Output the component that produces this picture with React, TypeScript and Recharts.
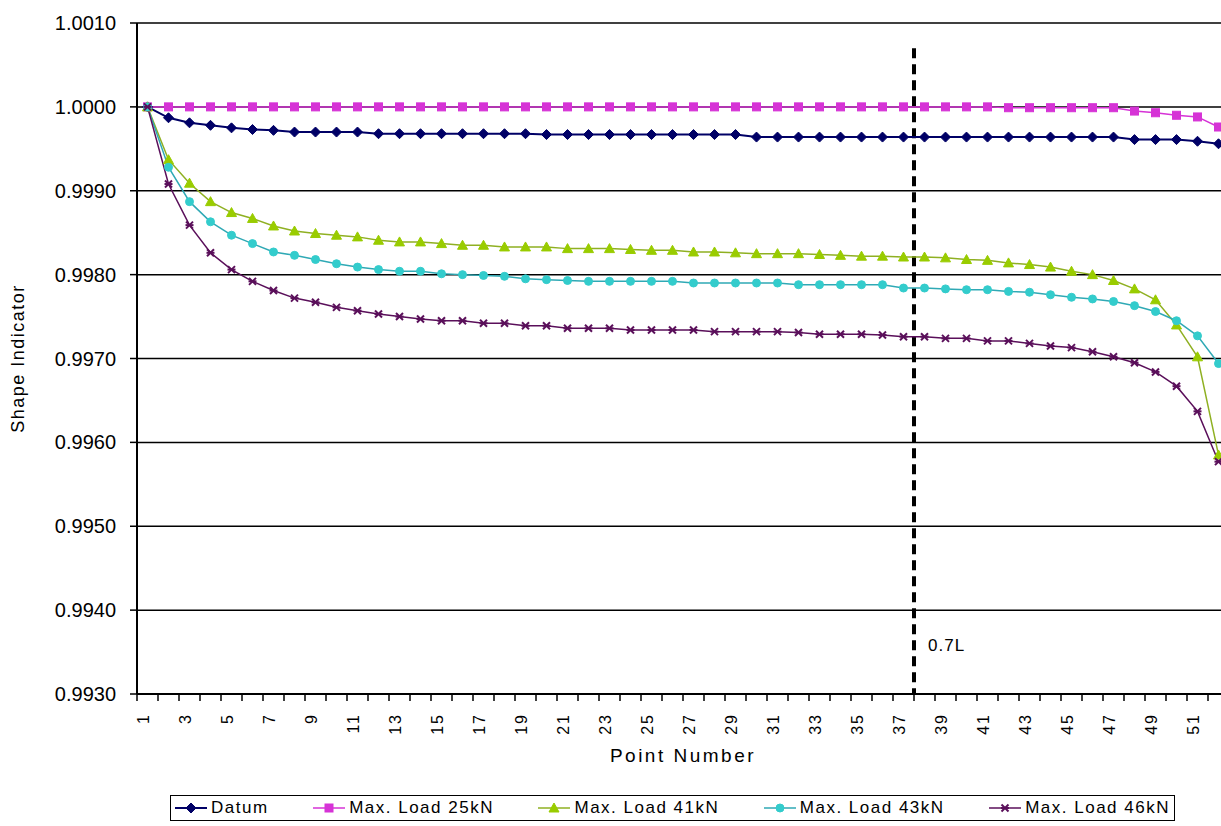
import { CartesianGrid, Legend, Line, LineChart, ReferenceLine, XAxis, YAxis } from "recharts";

// point numbers along the member
const points = Array.from({ length: 52 }, (_, i) => i + 1);

const datum = [
  1.0, 0.99987, 0.99981, 0.99978, 0.99975, 0.99973, 0.99972, 0.9997, 0.9997, 0.9997,
  0.9997, 0.99968, 0.99968, 0.99968, 0.99968, 0.99968, 0.99968, 0.99968, 0.99968, 0.99967,
  0.99967, 0.99967, 0.99967, 0.99967, 0.99967, 0.99967, 0.99967, 0.99967, 0.99967, 0.99964,
  0.99964, 0.99964, 0.99964, 0.99964, 0.99964, 0.99964, 0.99964, 0.99964, 0.99964, 0.99964,
  0.99964, 0.99964, 0.99964, 0.99964, 0.99964, 0.99964, 0.99964, 0.99961, 0.99961, 0.99961,
  0.99959, 0.99956,
];
const load25 = [
  1.0, 1.0, 1.0, 1.0, 1.0, 1.0, 1.0, 1.0, 1.0, 1.0,
  1.0, 1.0, 1.0, 1.0, 1.0, 1.0, 1.0, 1.0, 1.0, 1.0,
  1.0, 1.0, 1.0, 1.0, 1.0, 1.0, 1.0, 1.0, 1.0, 1.0,
  1.0, 1.0, 1.0, 1.0, 1.0, 1.0, 1.0, 1.0, 1.0, 1.0,
  1.0, 0.99999, 0.99999, 0.99999, 0.99999, 0.99999, 0.99999, 0.99995, 0.99993, 0.9999,
  0.99988, 0.99976,
];
const load41 = [
  1.0, 0.99937, 0.99909, 0.99887, 0.99874, 0.99867, 0.99858, 0.99852, 0.99849, 0.99847,
  0.99845, 0.99841, 0.99839, 0.99839, 0.99837, 0.99835, 0.99835, 0.99833, 0.99833, 0.99833,
  0.99831, 0.99831, 0.99831, 0.9983, 0.99829, 0.99829, 0.99827, 0.99827, 0.99826, 0.99825,
  0.99825, 0.99825, 0.99824, 0.99823, 0.99822, 0.99822, 0.99821, 0.99821, 0.9982, 0.99818,
  0.99817, 0.99814, 0.99812, 0.99809, 0.99804, 0.998, 0.99793, 0.99783, 0.9977, 0.9974,
  0.99702, 0.99585,
];
const load43 = [
  1.0, 0.99928, 0.99887, 0.99863, 0.99847, 0.99837, 0.99827, 0.99823, 0.99818, 0.99813,
  0.99809, 0.99806, 0.99804, 0.99804, 0.99801, 0.998, 0.99799, 0.99798, 0.99795, 0.99794,
  0.99793, 0.99792, 0.99792, 0.99792, 0.99792, 0.99792, 0.9979, 0.9979, 0.9979, 0.9979,
  0.9979, 0.99788, 0.99788, 0.99788, 0.99788, 0.99788, 0.99784, 0.99784, 0.99783, 0.99782,
  0.99782, 0.9978, 0.99779, 0.99776, 0.99773, 0.99771, 0.99768, 0.99763, 0.99756, 0.99745,
  0.99727, 0.99694,
];
const load46 = [
  1.0, 0.99908, 0.99859, 0.99826, 0.99806, 0.99792, 0.99781, 0.99772, 0.99767, 0.99761,
  0.99757, 0.99753, 0.9975, 0.99747, 0.99745, 0.99745, 0.99742, 0.99742, 0.99739, 0.99739,
  0.99736, 0.99736, 0.99736, 0.99734, 0.99734, 0.99734, 0.99734, 0.99732, 0.99732, 0.99732,
  0.99732, 0.99731, 0.99729, 0.99729, 0.99729, 0.99728, 0.99726, 0.99726, 0.99724, 0.99724,
  0.99721, 0.99721, 0.99718, 0.99715, 0.99713, 0.99708, 0.99702, 0.99695, 0.99684, 0.99667,
  0.99637, 0.99577,
];

const yTicks = [0.993, 0.994, 0.995, 0.996, 0.997, 0.998, 0.999, 1.0, 1.001];
// labels on odd points, tick marks on the boundaries between points
const xTicks = [0.5, ...points.flatMap((p) => [p, p + 0.5])];

// dashed "0.7L" marker, drawn between points 37 and 38
const markerX = 37.5;
const markerTop = 1.0007;

const series = [
  { key: "datum", name: "Datum", values: datum, color: "#000066", line: "#000066", shape: "diamond", width: 2 },
  { key: "load25", name: "Max. Load 25kN", values: load25, color: "#d633d6", line: "#d633d6", shape: "square", width: 1.5 },
  { key: "load41", name: "Max. Load 41kN", values: load41, color: "#99cc00", line: "#8fb022", shape: "triangle", width: 1.5 },
  { key: "load43", name: "Max. Load 43kN", values: load43, color: "#33cccc", line: "#2fa9b5", shape: "circle", width: 1.5 },
  { key: "load46", name: "Max. Load 46kN", values: load46, color: "#5a0f5a", line: "#5a0f5a", shape: "star", width: 1.5 },
];

const rows = points.map((p, i) => {
  const row: Record<string, number> = { point: p };
  series.forEach((s) => (row[s.key] = s.values[i]));
  return row;
});

const FONT = "'Liberation Sans', Arial, sans-serif";

function Marker({ shape, cx, cy, color }: { shape: string; cx: number; cy: number; color: string }) {
  if (shape === "diamond")
    return <polygon points={`${cx},${cy - 5} ${cx + 5},${cy} ${cx},${cy + 5} ${cx - 5},${cy}`} fill={color} stroke={color} />;
  if (shape === "square") return <rect x={cx - 4} y={cy - 4} width={8} height={8} fill={color} stroke={color} />;
  if (shape === "triangle")
    return <polygon points={`${cx},${cy - 5} ${cx + 5},${cy + 4} ${cx - 5},${cy + 4}`} fill={color} stroke={color} />;
  if (shape === "circle") return <circle cx={cx} cy={cy} r={4} fill={color} stroke={color} />;
  return (
    <g stroke={color} strokeWidth={2}>
      <line x1={cx - 3.5} y1={cy - 3.5} x2={cx + 3.5} y2={cy + 3.5} />
      <line x1={cx - 3.5} y1={cy + 3.5} x2={cx + 3.5} y2={cy - 3.5} />
      <line x1={cx - 4} y1={cy} x2={cx + 4} y2={cy} />
    </g>
  );
}

function XTick(props: any) {
  const { x, y, payload } = props;
  const v = payload.value as number;
  if (!Number.isInteger(v)) {
    return <line x1={x} y1={y} x2={x} y2={y + 7} stroke="#000" strokeWidth={1.5} />;
  }
  if (v % 2 === 0) return <g />;
  return (
    <text
      transform={`translate(${x - 4},${y + 19}) rotate(-90)`}
      textAnchor="end"
      dominantBaseline="central"
      fontSize={16}
      letterSpacing={2}
      fill="#000"
    >
      {v}
    </text>
  );
}

function LegendBox() {
  return (
    <div
      style={{
        height: 26,
        boxSizing: "border-box",
        border: "1px solid #000",
        display: "flex",
        alignItems: "center",
        justifyContent: "space-between",
        padding: "0 4px 0 2px",
        fontFamily: FONT,
        fontSize: 17,
        letterSpacing: 1.5,
        background: "#fff",
      }}
    >
      {series.map((s) => (
        <div key={s.key} style={{ display: "flex", alignItems: "center" }}>
          <svg width={36} height={14}>
            <line x1={2} y1={7} x2={34} y2={7} stroke={s.line} strokeWidth={s.width} />
            <Marker shape={s.shape} cx={18} cy={7} color={s.color} />
          </svg>
          <span style={{ marginLeft: 2 }}>{s.name}</span>
        </div>
      ))}
    </div>
  );
}

export default function App() {
  return (
    <div
      style={{ position: "fixed", left: 0, top: 0, width: 1221, height: 826, overflow: "hidden", background: "#fff" }}
    >
      <LineChart
        width={1250}
        height={826}
        data={rows}
        margin={{ top: 23, right: 21, bottom: 5, left: 0 }}
        style={{ fontFamily: FONT }}
      >
        <CartesianGrid vertical={false} stroke="#000" strokeWidth={1.5} strokeOpacity={1} />
        <XAxis
          type="number"
          dataKey="point"
          domain={[0.5, 52.5]}
          allowDataOverflow
          ticks={xTicks}
          interval={0}
          tick={<XTick />}
          tickLine={false}
          tickSize={0}
          tickMargin={0}
          axisLine={{ stroke: "#000", strokeWidth: 2 }}
          height={101}
          label={{ value: "Point Number", position: "insideTop", offset: 55, fontSize: 19, letterSpacing: 2.5, fill: "#000" }}
        />
        <YAxis
          type="number"
          domain={[0.993, 1.001]}
          ticks={yTicks}
          interval={0}
          width={137}
          tickFormatter={(v: number) => v.toFixed(4)}
          tick={{ fontSize: 20, fill: "#000" }}
          tickSize={7}
          tickMargin={14}
          tickLine={{ stroke: "#000", strokeWidth: 1.5 }}
          axisLine={{ stroke: "#000", strokeWidth: 2 }}
          label={{
            value: "Shape Indicator",
            angle: -90,
            position: "insideLeft",
            offset: 18,
            style: { textAnchor: "middle" },
            fontSize: 18,
            letterSpacing: 1.5,
            fill: "#000",
          }}
        />
        <ReferenceLine
          segment={[
            { x: markerX, y: markerTop },
            { x: markerX, y: 0.993 },
          ]}
          stroke="#000"
          strokeWidth={4}
          strokeDasharray="10 6"
          label={(p: any) => (
            <text
              x={p.viewBox.x + 14}
              y={p.viewBox.y + p.viewBox.height - 49}
              dominantBaseline="central"
              fontSize={17}
              letterSpacing={1}
              fill="#000"
            >
              0.7L
            </text>
          )}
        />
        {series.map((s) => (
          <Line
            key={s.key}
            type="linear"
            dataKey={s.key}
            name={s.name}
            stroke={s.line}
            strokeWidth={s.width}
            isAnimationActive={false}
            activeDot={false}
            dot={(p: any) => <Marker key={`${s.key}-${p.index}`} shape={s.shape} cx={p.cx} cy={p.cy} color={s.color} />}
          />
        ))}
        <Legend
          verticalAlign="bottom"
          content={() => <LegendBox />}
          wrapperStyle={{ left: 170, width: 1005, bottom: 5 }}
        />
      </LineChart>
    </div>
  );
}
